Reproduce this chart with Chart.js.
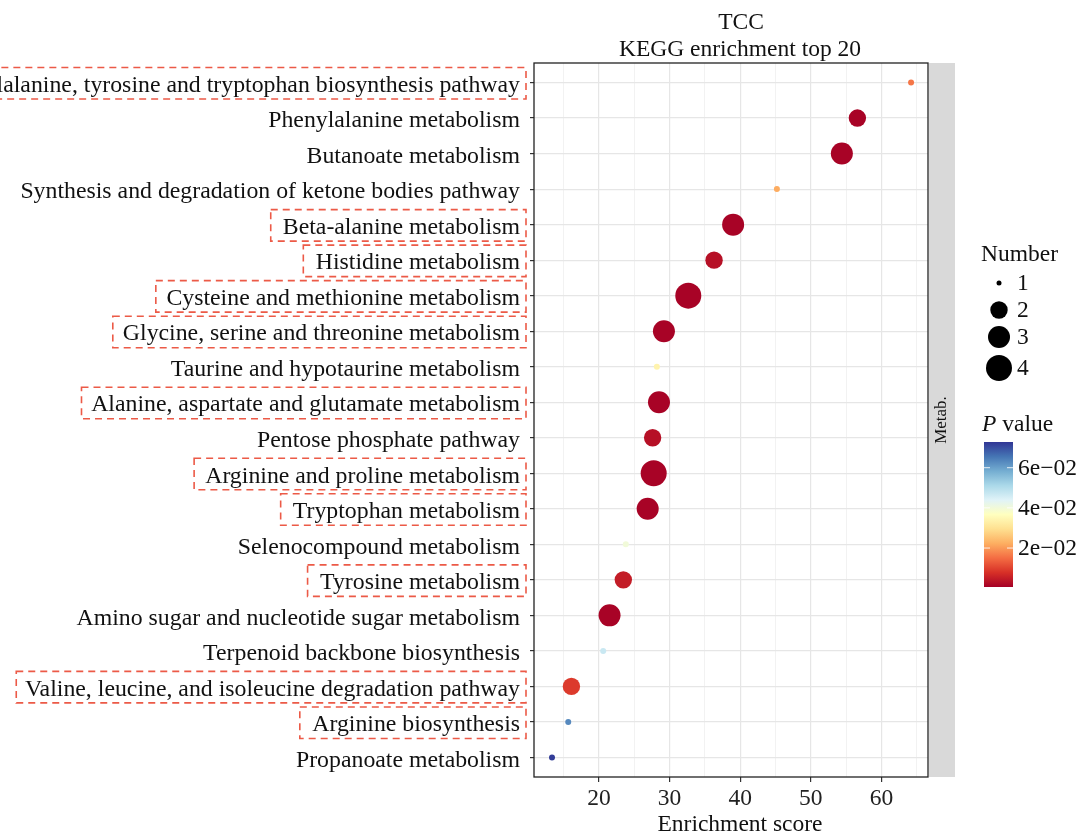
<!DOCTYPE html>
<html>
<head>
<meta charset="utf-8">
<script src="https://cdn.jsdelivr.net/npm/chart.js@4.4.1/dist/chart.umd.min.js"></script>
<style>
  html, body { margin: 0; padding: 0; background: #fff; }
  canvas { display: block; }
</style>
</head>
<body>
<canvas id="grafico" width="1086" height="834"></canvas>
<script>
// Datos (orden de arriba hacia abajo)
const pathways = [
    "Phenylalanine, tyrosine and tryptophan biosynthesis pathway",
    "Phenylalanine metabolism",
    "Butanoate metabolism",
    "Synthesis and degradation of ketone bodies pathway",
    "Beta-alanine metabolism",
    "Histidine metabolism",
    "Cysteine and methionine metabolism",
    "Glycine, serine and threonine metabolism",
    "Taurine and hypotaurine metabolism",
    "Alanine, aspartate and glutamate metabolism",
    "Pentose phosphate pathway",
    "Arginine and proline metabolism",
    "Tryptophan metabolism",
    "Selenocompound metabolism",
    "Tyrosine metabolism",
    "Amino sugar and nucleotide sugar metabolism",
    "Terpenoid backbone biosynthesis",
    "Valine, leucine, and isoleucine degradation pathway",
    "Arginine biosynthesis",
    "Propanoate metabolism"
];
const enrichment = [64.2, 56.6, 54.4, 45.2, 39.0, 36.3, 32.65, 29.2, 28.2, 28.5,
                    27.6, 27.75, 26.9, 23.8, 23.45, 21.5, 20.6, 16.1, 15.65, 13.35];
const counts = [1, 2, 3, 1, 3, 2, 4, 3, 1, 3, 2, 4, 3, 1, 2, 3, 1, 2, 1, 1];
const pValues = [0.016, 0.001, 0.001, 0.022, 0.001, 0.003, 0.001, 0.001, 0.034, 0.001,
                 0.003, 0.001, 0.001, 0.040, 0.005, 0.001, 0.047, 0.009, 0.063, 0.072];
const highlighted = [true, false, false, false, true, true, true, true, false, true,
                     false, true, true, false, true, false, false, true, true, false];
const xTicks = [20, 30, 40, 50, 60];
const xMinorTicks = [15, 25, 35, 45, 55, 65];
const legendNumbers = [1, 2, 3, 4];
const pTicks = [0.06, 0.04, 0.02];
const pTickLabels = ["6e\u221202", "4e\u221202", "2e\u221202"];

// Escalas de estilo
const pMin = 0.0006, pMax = 0.0728;
const radios = { 1: 3, 2: 8.7, 3: 11, 4: 13 };
const paleta = ["#a50026", "#d73027", "#f46d43", "#fdae61", "#fee090", "#ffffbf",
                "#e0f3f8", "#abd9e9", "#74add1", "#4575b4", "#313695"];
const fuente = "'Liberation Serif', 'Times New Roman', serif";
const tamano = 23.5;

function hexARgb(h) {
    return [parseInt(h.slice(1, 3), 16), parseInt(h.slice(3, 5), 16), parseInt(h.slice(5, 7), 16)];
}

function colorP(p) {
    let t = (p - pMin) / (pMax - pMin);
    t = Math.max(0, Math.min(1, t));
    let pos = t * (paleta.length - 1);
    let i = Math.min(Math.floor(pos), paleta.length - 2);
    let f = pos - i;
    let a = hexARgb(paleta[i]), b = hexARgb(paleta[i + 1]);
    let c = a.map((v, k) => Math.round(v + (b[k] - v) * f));
    return `rgb(${c[0]}, ${c[1]}, ${c[2]})`;
}

const puntos = enrichment.map((x, i) => ({ x: x, y: i }));

const decoracion = {
    id: "decoracion",
    beforeDraw(chart) {
        const ctx = chart.ctx;
        ctx.save();
        ctx.fillStyle = "#fff";
        ctx.fillRect(0, 0, chart.width, chart.height);
        ctx.restore();
    },
    afterDraw(chart) {
        const ctx = chart.ctx;
        const a = chart.chartArea;
        const yScale = chart.scales.y;
        ctx.save();

        // borde del panel
        ctx.strokeStyle = "#222";
        ctx.lineWidth = 1.3;
        ctx.strokeRect(a.left, a.top, a.right - a.left, a.bottom - a.top);

        // franja gris con "Metab."
        ctx.fillStyle = "#d9d9d9";
        ctx.fillRect(a.right + 1, a.top, 26, a.bottom - a.top);
        ctx.save();
        ctx.translate(a.right + 14, (a.top + a.bottom) / 2);
        ctx.rotate(-Math.PI / 2);
        ctx.fillStyle = "#111";
        ctx.font = `17px ${fuente}`;
        ctx.textAlign = "center";
        ctx.textBaseline = "middle";
        ctx.fillText("Metab.", 0, 0);
        ctx.restore();

        // recuadros rojos punteados
        ctx.font = `${tamano}px ${fuente}`;
        ctx.strokeStyle = "#ec5a47";
        ctx.lineWidth = 1.6;
        ctx.setLineDash([7, 5]);
        const finTexto = a.left - 14;
        pathways.forEach((nombre, i) => {
            if (!highlighted[i]) return;
            let y = yScale.getPixelForValue(i);
            let w = ctx.measureText(nombre).width;
            let izq = finTexto - w - 15;
            ctx.strokeRect(izq, y - 15, (a.left - 8) - izq, 31.5);
        });
        ctx.setLineDash([]);

        // titulo
        ctx.fillStyle = "#111";
        ctx.textAlign = "center";
        ctx.textBaseline = "alphabetic";
        ctx.font = `${tamano}px ${fuente}`;
        ctx.fillText("TCC", 741, 29);
        ctx.fillText("KEGG enrichment top 20", 740, 56);

        // titulo del eje x
        ctx.fillText("Enrichment score", 740, 831);

        // leyenda de tamano
        ctx.textAlign = "left";
        ctx.fillText("Number", 981, 261);
        const yLeyenda = [283, 310, 337, 368];
        ctx.textBaseline = "middle";
        legendNumbers.forEach((n, k) => {
            ctx.fillStyle = "#000";
            ctx.beginPath();
            ctx.arc(999, yLeyenda[k], n === 1 ? 2.5 : radios[n], 0, Math.PI * 2);
            ctx.fill();
            ctx.fillStyle = "#111";
            ctx.fillText(String(n), 1017, yLeyenda[k] + 1);
        });

        // leyenda de color
        ctx.textBaseline = "alphabetic";
        ctx.font = `italic ${tamano}px ${fuente}`;
        ctx.fillText("P", 982, 431);
        let wP = ctx.measureText("P ").width;
        ctx.font = `${tamano}px ${fuente}`;
        ctx.fillText("value", 982 + wP, 431);

        const bx = 984, bw = 29, bTop = 442, bBot = 587;
        const grad = ctx.createLinearGradient(0, bBot, 0, bTop);
        paleta.forEach((c, k) => grad.addColorStop(k / (paleta.length - 1), c));
        ctx.fillStyle = grad;
        ctx.fillRect(bx, bTop, bw, bBot - bTop);

        ctx.strokeStyle = "rgba(255,255,255,0.85)";
        ctx.lineWidth = 1;
        ctx.textBaseline = "middle";
        pTicks.forEach((p, k) => {
            let y = bBot - (p - pMin) / (pMax - pMin) * (bBot - bTop);
            ctx.beginPath();
            ctx.moveTo(bx, y); ctx.lineTo(bx + 6, y);
            ctx.moveTo(bx + bw - 6, y); ctx.lineTo(bx + bw, y);
            ctx.stroke();
            ctx.fillStyle = "#111";
            ctx.fillText(pTickLabels[k], 1018, y + 1);
        });

        ctx.restore();
    }
};

new Chart(document.getElementById("grafico"), {
    type: "scatter",
    data: {
        datasets: [{
            label: "KEGG",
            data: puntos,
            pointRadius: ctx => radios[counts[ctx.dataIndex]],
            pointHoverRadius: ctx => radios[counts[ctx.dataIndex]],
            backgroundColor: ctx => colorP(pValues[ctx.dataIndex]),
            borderWidth: 0
        }]
    },
    options: {
        responsive: false,
        animation: false,
        events: [],
        layout: { padding: { top: 63, right: 158, bottom: 0, left: 0 } },
        plugins: {
            legend: { display: false },
            title: { display: false },
            tooltip: { enabled: false }
        },
        scales: {
            x: {
                type: "linear",
                min: 10.8,
                max: 66.6,
                afterBuildTicks: scale => {
                    scale.ticks = xTicks.concat(xMinorTicks).sort((a, b) => a - b).map(v => ({ value: v }));
                },
                afterFit: scale => { scale.height = 57; },
                ticks: {
                    autoSkip: false,
                    maxRotation: 0,
                    padding: 3,
                    color: "#222",
                    font: { family: fuente, size: tamano },
                    callback: v => (xTicks.includes(v) ? String(v) : "")
                },
                grid: {
                    color: ctx => (ctx.tick && xTicks.includes(ctx.tick.value) ? "#e6e6e6" : "#efefef"),
                    lineWidth: ctx => (ctx.tick && xTicks.includes(ctx.tick.value) ? 1.2 : 0.8),
                    tickLength: 5,
                    tickColor: ctx => (ctx.tick && xTicks.includes(ctx.tick.value) ? "#333" : "rgba(0,0,0,0)"),
                    tickWidth: 1.2
                },
                border: { display: false }
            },
            y: {
                type: "linear",
                reverse: true,
                min: -0.55,
                max: 19.55,
                afterBuildTicks: scale => {
                    scale.ticks = pathways.map((_, i) => ({ value: i }));
                },
                afterFit: scale => { scale.width = 534; },
                ticks: {
                    autoSkip: false,
                    padding: 10,
                    labelOffset: 3,
                    color: "#111",
                    font: { family: fuente, size: 23.8 },
                    callback: v => pathways[v]
                },
                grid: {
                    color: "#e6e6e6",
                    lineWidth: 1.2,
                    tickLength: 4,
                    tickColor: "#333",
                    tickWidth: 1.2
                },
                border: { display: false }
            }
        }
    },
    plugins: [decoracion]
});
</script>
</body>
</html>
